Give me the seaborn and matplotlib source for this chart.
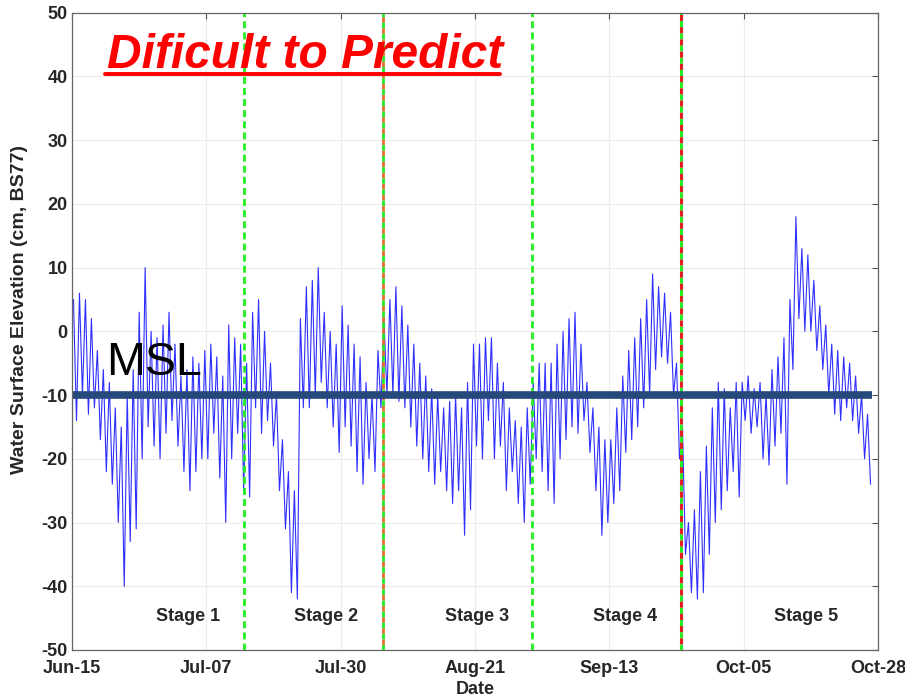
import numpy as np
import pandas as pd
import matplotlib
matplotlib.use('Agg')
import matplotlib.pyplot as plt
import seaborn as sns
from matplotlib.lines import Line2D

# ---- data (days since Jun-15, cm BS77) ----
daily_high = [5, 6, 5, 2, -3, -6, -8, -12, -15, -10, -6, 3, 10, 0, -1, 1, 3, -2, -7, -6, -4, -5,
              -3, -2, -4, -7, 1, -1, -2, -5, 3, 5, 0, -5, -10, -17, -22, -25, 2, 7, 8, 10, 3, 0, -2,
              4, 1, -2, -4, -8, -10, -3, 2, 5, 7, 4, 1, -2, -5, -7, -9, -10, -12, -11, -10, -12, -8,
              -2, -2, -1, -1, -5, -8, -12, -14, -15, -12, -8, -5, -5, -5, -2, 0, 2, 3, -2, -8, -12, -15, -17,
              -17, -12, -7, -3, -1, 2, 5, 9, 7, 6, 3, -5, -15, -30, -28, -22, -18, -12, -8, -9, -12, -8,
              -8, -7, -9, -8, -10, -6, -4, -1, 5, 18, 13, 12, 8, 4, 1, -2, -3, -4, -5, -7, -10, -13]
daily_low = [-14, -10, -13, -12, -17, -22, -24, -30, -40, -33, -31, -20, -15, -18, -20, -16, -14, -18, -22, -25, -22, -20,
             -20, -16, -23, -30, -20, -16, -25, -26, -12, -16, -14, -18, -25, -31, -41, -42, -12, -12, -10, -8, -12, -15, -19,
             -15, -18, -22, -24, -20, -22, -12, -10, -10, -11, -12, -15, -18, -20, -22, -24, -22, -25, -27, -25, -32, -28,
             -18, -20, -14, -20, -18, -25, -22, -27, -30, -24, -20, -22, -25, -27, -20, -17, -15, -16, -14, -19, -25, -32, -30,
             -27, -25, -19, -17, -15, -12, -10, -6, -4, -5, -10, -20, -35, -41, -42, -41, -35, -30, -28, -25, -22, -26,
             -14, -16, -15, -20, -21, -18, -16, -24, -6, 2, 0, 0, -3, -6, -10, -13, -14, -12, -14, -16, -20, -24]
tick_days = [0, 22.5, 45, 67.5, 90, 112.5, 135]
tick_labels = ['Jun-15', 'Jul-07', 'Jul-30', 'Aug-21', 'Sep-13', 'Oct-05', 'Oct-28']
stage_bounds = [28.8, 52.1, 77.0, 102.0]
stage_names = ['Stage 1', 'Stage 2', 'Stage 3', 'Stage 4', 'Stage 5']
stage_label_days = [19.4, 42.6, 67.8, 92.6, 123.0]
msl_level = -10

days = np.arange(len(daily_high))
df = pd.DataFrame({
    'time': np.concatenate([days + 0.25, days + 0.75]),
    'elev': np.concatenate([daily_high, daily_low]),
}).sort_values('time')

sns.set_style('white')
plt.rcParams['font.family'] = ['Liberation Sans', 'DejaVu Sans']
plt.rcParams['axes.unicode_minus'] = False

fig = plt.figure(figsize=(9.05, 7.00), dpi=100)
ax = fig.add_axes([72/905, 1-650/700, (878-72)/905, (650-12.7)/700])

ax.grid(True, color='#ececec', lw=0.8)
ax.set_axisbelow(True)

sns.lineplot(data=df, x='time', y='elev', ax=ax, color='#2f2fff', lw=0.8,
             estimator=None, sort=True)

# stage boundaries
ax.axvline(stage_bounds[0], color='#22ee22', lw=2, ls=(0, (2.5, 1.5)))
ax.axvline(stage_bounds[1], color='#e07030', lw=2, ls=(2, (2, 2)))
ax.axvline(stage_bounds[1], color='#22ee22', lw=2, ls=(0, (2, 2)))
ax.axvline(stage_bounds[2], color='#22ee22', lw=2, ls=(0, (2.5, 1.5)))
ax.axvline(stage_bounds[3], color='#22ee22', lw=2.2, ls=(0, (2, 2)))
ax.axvline(stage_bounds[3], color='#e02020', lw=2.2, ls=(2, (2, 2)))

# MSL
ax.axhline(msl_level, xmin=0, xmax=0.993, color='#24497a', lw=5.5, solid_capstyle='butt')
ax.text(5.7, -6.8, 'MSL', fontsize=33.5, color='black', va='baseline', ha='left')

for name, d in zip(stage_names, stage_label_days):
    ax.text(d, -44.8, name, fontsize=13, fontweight='bold', ha='center', va='center')

title = ax.text(5.9, 41.4, 'Dificult to Predict', fontsize=34.5, color='#ff0000',
                fontweight='bold', fontstyle='italic', va='baseline', ha='left')

ax.set_xlim(0, 135)
ax.set_ylim(-50, 50)
ax.set_xticks(tick_days)
ax.set_xticklabels(tick_labels)
ax.set_yticks(np.arange(-50, 51, 10))
ax.tick_params(direction='in', length=4, width=0.8, color='#555555',
               top=True, right=True, labelsize=13)
ax.tick_params(axis='x', pad=7)
ax.tick_params(axis='y', pad=3)
for lab in ax.get_xticklabels() + ax.get_yticklabels():
    lab.set_fontweight('bold')
ax.set_xlabel('Date', fontsize=13, fontweight='bold')
ax.xaxis.set_label_coords(0.5, -0.048)
ax.set_ylabel('Water Surface Elevation (cm, BS77)', fontsize=14, fontweight='bold')
ax.yaxis.set_label_coords(-0.055, 0.535)
for s in ax.spines.values():
    s.set_color('#666666')
    s.set_linewidth(0.9)

# underline the title
fig.canvas.draw()
bb = title.get_window_extent(renderer=fig.canvas.get_renderer())
inv = fig.transFigure.inverted()
(x0, y0), (x1, y1) = inv.transform([[bb.x0, bb.y0], [bb.x1, bb.y1]])
uy = 1 - 73.5/700
fig.add_artist(Line2D([x0 - 0.003, x1 - 0.004], [uy, uy], color='#ff0000', lw=2.8,
                      transform=fig.transFigure))

fig.savefig('out.png', dpi=100, facecolor='white')
